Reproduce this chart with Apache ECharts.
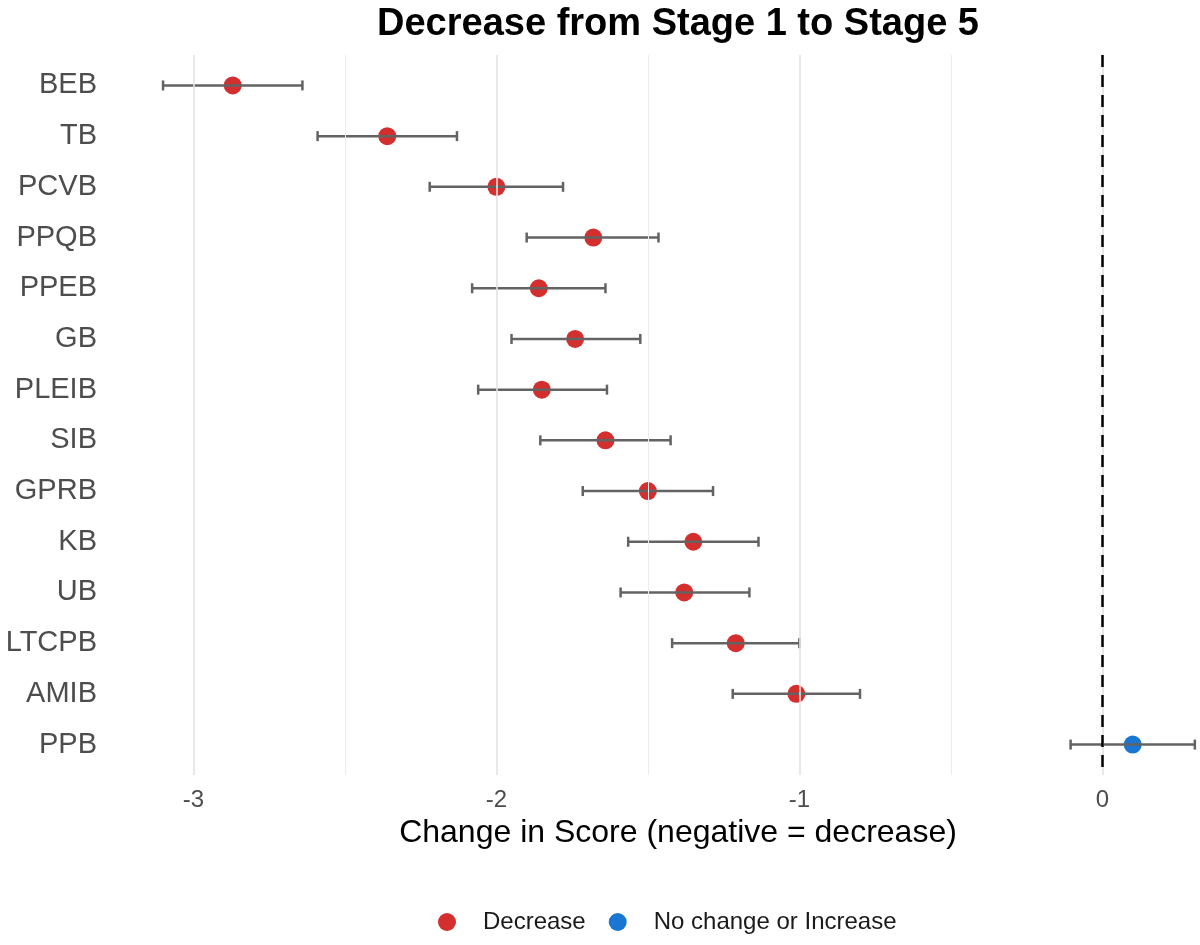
<!DOCTYPE html>
<html>
<head>
<meta charset="utf-8">
<script src="https://cdn.jsdelivr.net/npm/echarts@6/dist/echarts.min.js"></script>
<style>
  html, body { margin: 0; padding: 0; background: #fff; }
  #chart { width: 1200px; height: 945px; }
</style>
</head>
<body>
<div id="chart"></div>
<script>
// categories top to bottom
var categories = ['BEB', 'TB', 'PCVB', 'PPQB', 'PPEB', 'GB', 'PLEIB', 'SIB', 'GPRB', 'KB', 'UB', 'LTCPB', 'AMIB', 'PPB'];
// mean change and interval ends
var change = [-2.87, -2.36, -2.00, -1.68, -1.86, -1.74, -1.85, -1.64, -1.50, -1.35, -1.38, -1.21, -1.01, 0.10];
var lower  = [-3.10, -2.59, -2.22, -1.90, -2.08, -1.95, -2.06, -1.855, -1.715, -1.565, -1.59, -1.42, -1.22, -0.105];
var upper  = [-2.64, -2.13, -1.78, -1.465, -1.64, -1.525, -1.635, -1.425, -1.285, -1.135, -1.165, -1.00, -0.80, 0.305];
var xTicks = [-3, -2, -1, 0];
var xMinor = [-2.5, -1.5, -0.5];

var FONT = '"Liberation Sans", Arial, Helvetica, sans-serif';
var RED = '#d32f2f', BLUE = '#1976d2';

var decData = [], incData = [], errData = [];
for (var i = 0; i < categories.length; i++) {
    if (change[i] < 0) {
        decData.push([change[i], i]);
    } else {
        incData.push([change[i], i]);
    }
    errData.push([lower[i], upper[i], i]);
}

var gridLines = [];
xTicks.forEach(function (v) {
    gridLines.push({ xAxis: v, lineStyle: { color: '#e3e3e3', width: 1.6, type: 'solid' } });
});
xMinor.forEach(function (v) {
    gridLines.push({ xAxis: v, lineStyle: { color: '#ececec', width: 1, type: 'solid' } });
});

var yIdx = categories.map(function (c, i) { return i; });

var myChart = echarts.init(document.getElementById('chart'));
var option = {
    backgroundColor: '#fff',
    animation: false,
    title: {
        text: 'Decrease from Stage 1 to Stage 5',
        left: 673,
        top: 1,
        textAlign: 'center',
        textStyle: { fontFamily: FONT, fontSize: 38, fontWeight: 'bold', color: '#000' }
    },
    legend: {
        data: ['Decrease', 'No change or Increase'],
        left: 433,
        top: 905,
        icon: 'circle',
        itemWidth: 62,
        itemHeight: 18,
        itemGap: 23,
        textStyle: { fontFamily: FONT, fontSize: 24, color: '#1a1a1a' }
    },
    // plot panel runs past the right edge of the picture
    grid: { left: 110, top: 55, width: 1090, height: 720 },
    xAxis: {
        type: 'value',
        min: -3.275,
        max: 0.322,
        name: 'Change in Score (negative = decrease)',
        nameLocation: 'middle',
        nameGap: 42,
        nameTextStyle: { fontFamily: FONT, fontSize: 32, color: '#000', padding: [0, 0, 0, 46] },
        axisLine: { show: false },
        axisTick: { show: false },
        splitLine: { show: false },
        axisLabel: {
            customValues: xTicks,
            margin: 13,
            fontFamily: FONT,
            fontSize: 24,
            color: '#4d4d4d'
        }
    },
    yAxis: {
        type: 'value',
        inverse: true,
        min: -0.6,
        max: 13.6,
        axisLine: { show: false },
        axisTick: { show: false },
        splitLine: { show: false },
        axisLabel: {
            customValues: yIdx,
            margin: 13,
            fontFamily: FONT,
            fontSize: 29,
            color: '#4d4d4d',
            formatter: function (v) { return categories[Math.round(v)]; }
        }
    },
    series: [
        {
            // background grid and zero line
            name: 'grid',
            type: 'line',
            data: [],
            silent: true,
            z: 0,
            markLine: {
                silent: true,
                symbol: ['none', 'none'],
                label: { show: false },
                animation: false,
                data: gridLines.concat([
                    { xAxis: 0, lineStyle: { color: '#000', width: 2.5, type: [12, 8] } }
                ])
            }
        },
        {
            name: 'Decrease',
            type: 'scatter',
            symbolSize: 18,
            itemStyle: { color: RED, opacity: 1 },
            z: 2,
            data: decData
        },
        {
            name: 'No change or Increase',
            type: 'scatter',
            symbolSize: 18,
            itemStyle: { color: BLUE, opacity: 1 },
            z: 2,
            data: incData
        },
        {
            name: 'err',
            type: 'custom',
            z: 3,
            silent: true,
            clip: false,
            encode: { x: [0, 1], y: 2 },
            renderItem: function (params, api) {
                var y = api.value(2);
                var a = api.coord([api.value(0), y]);
                var b = api.coord([api.value(1), y]);
                var h = 5;
                var st = { stroke: '#636363', lineWidth: 2.5 };
                return {
                    type: 'group',
                    children: [
                        { type: 'line', shape: { x1: a[0], y1: a[1], x2: b[0], y2: b[1] }, style: st },
                        { type: 'line', shape: { x1: a[0], y1: a[1] - h, x2: a[0], y2: a[1] + h }, style: st },
                        { type: 'line', shape: { x1: b[0], y1: b[1] - h, x2: b[0], y2: b[1] + h }, style: st }
                    ]
                };
            },
            data: errData
        }
    ]
};
myChart.setOption(option);
</script>
</body>
</html>
